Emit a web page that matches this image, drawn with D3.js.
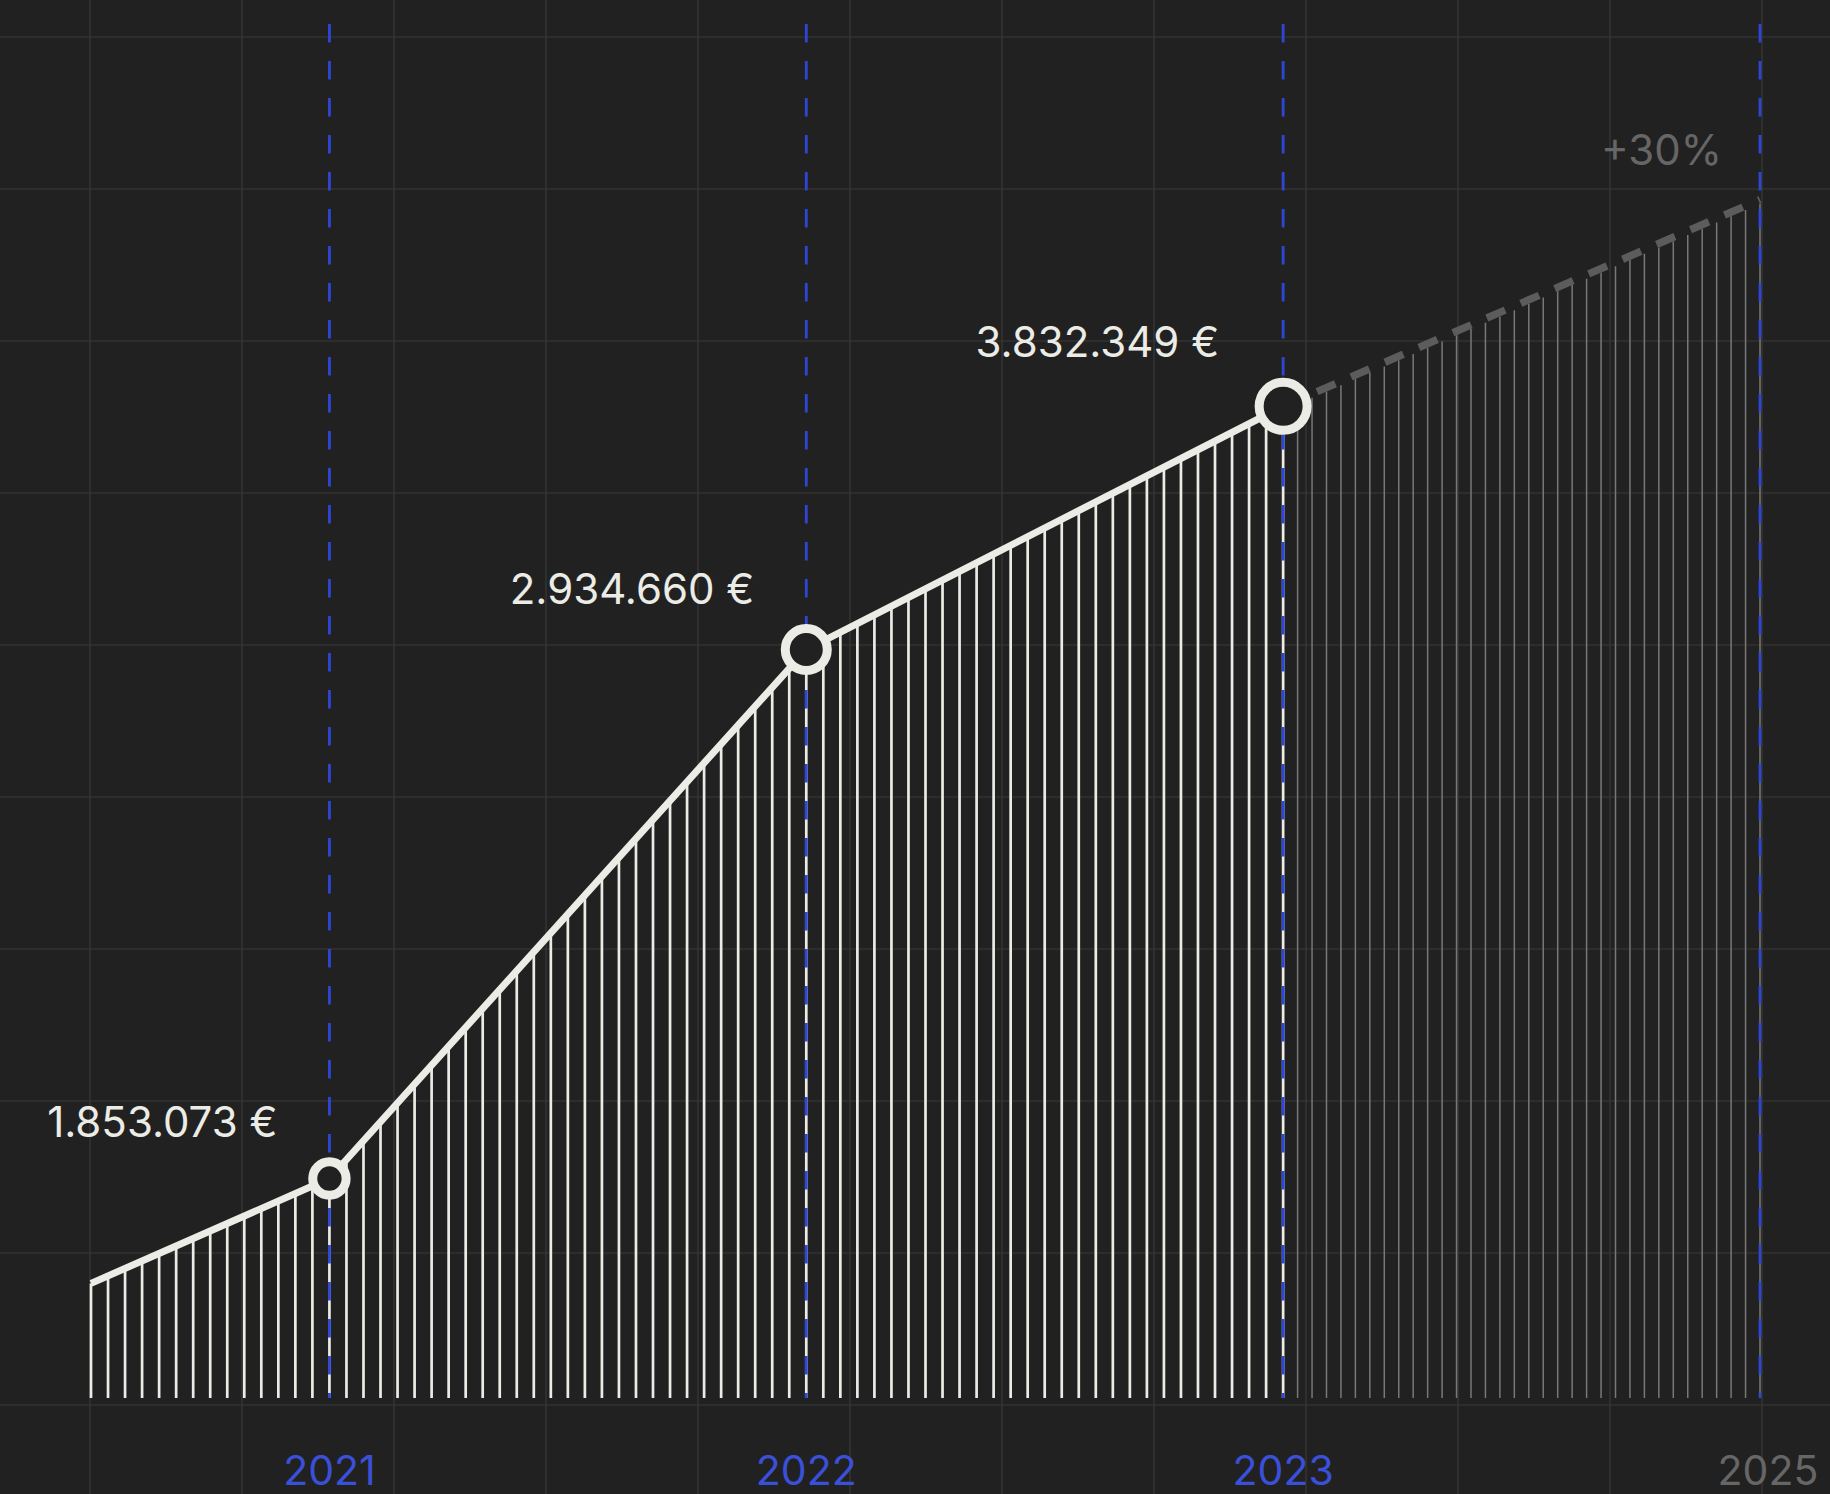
<!DOCTYPE html>
<html>
<head>
<meta charset="utf-8">
<script src="https://cdn.jsdelivr.net/npm/d3@7"></script>
<style>
  html, body { margin: 0; padding: 0; background: #212121; }
  svg { display: block; }
  text { font-family: Inter, "Noto Sans", sans-serif; font-weight: 400; }
</style>
</head>
<body>
<svg id="chart" width="1830" height="1494"></svg>
<script>
// ---------------- data ----------------
const years = ["2021", "2022", "2023", "2025"];
const revenue = [1853073, 2934660, 3832349];      // labelled values 2021–2023
const growth = 0.30;                               // projection label for 2025
// plotted height of the line (in grid squares above the base line)
const startLevel = 0.80;
const yearLevels = [1.49, 4.97, 6.57, 7.93];

// ---------------- layout ----------------
const W = 1830, H = 1494;
const svg = d3.select("#chart");
const C = {
  bg: "#212121", grid: "#3a3a3a", ink: "#ecece6", blue: "#2e46d6",
  blueText: "#3a50d8", fade: "#787878", proj: "#5c5c5c", muted: "#666666"
};

const x = d3.scaleLinear().domain([-0.5, years.length - 1]).range([91, 1760]);
const y = d3.scaleLinear().domain([0, 9]).range([1405, 37]);
const r = d3.scaleSqrt().domain([0, d3.max(revenue)]).range([0, 24]);
const gx = d3.scaleLinear().domain([0, 11]).range([90, 1762]);

const fmt = d3.formatLocale({ decimal: ",", thousands: ".", grouping: [3], currency: ["", " €"] }).format("$,.0f");
const pct = d3.format("+.0%");

const base = y(0) - 7;

svg.append("rect").attr("width", W).attr("height", H).attr("fill", C.bg);

// grid
const grid = svg.append("g").attr("stroke", C.grid).attr("stroke-width", 1.2);
grid.selectAll("line.h").data(y.ticks(9)).join("line").attr("class", "h")
  .attr("x1", 0).attr("x2", W).attr("y1", d => y(d)).attr("y2", d => y(d));
grid.selectAll("line.v").data(gx.ticks(11)).join("line").attr("class", "v")
  .attr("y1", 0).attr("y2", H).attr("x1", d => gx(d)).attr("x2", d => gx(d));

// line points
const solidPts = [{ slot: -0.5, level: startLevel }]
  .concat(years.slice(0, 3).map((yr, i) => ({ slot: i, level: yearLevels[i] })));
const projPts = [2, 3].map(i => ({ slot: i, level: yearLevels[i] }));

// hatch bars under the line
const bars = [];
function hatch(pts, spacing, faded, skipFirst) {
  for (let s = 0; s < pts.length - 1; s++) {
    const x0 = x(pts[s].slot), x1 = x(pts[s + 1].slot);
    const y0 = y(pts[s].level), y1 = y(pts[s + 1].level);
    const n = Math.round((x1 - x0) / spacing);
    const kStart = (s === 0 && !skipFirst) ? 0 : 1;
    for (let k = kStart; k <= n; k++) {
      const t = k / n;
      bars.push({ x: x0 + (x1 - x0) * t, top: y0 + (y1 - y0) * t, faded });
    }
  }
}
hatch(solidPts, 16.8, false, false);
hatch(projPts, 14.4, true, true);

svg.append("g").selectAll("line").data(bars).join("line")
  .attr("x1", d => d.x).attr("x2", d => d.x)
  .attr("y1", base).attr("y2", d => d.top + (d.faded ? 4 : 0))
  .attr("stroke", d => d.faded ? C.fade : C.ink)
  .attr("stroke-width", d => d.faded ? 1.5 : 2.7);

// blue dashed year lines
svg.append("g").selectAll("line").data(years).join("line")
  .attr("x1", (d, i) => x(i)).attr("x2", (d, i) => x(i))
  .attr("y1", 24).attr("y2", base)
  .attr("stroke", C.blue).attr("stroke-width", 2.8)
  .attr("stroke-dasharray", "18.5 18.5");

const line = d3.line().x(d => x(d.slot)).y(d => y(d.level));

// projection dashed line
svg.append("path").datum(projPts).attr("d", line)
  .attr("fill", "none").attr("stroke", C.proj).attr("stroke-width", 7.5)
  .attr("stroke-dasharray", "20 17");

// main line
svg.append("path").datum(solidPts).attr("d", line)
  .attr("fill", "none").attr("stroke", C.ink).attr("stroke-width", 7)
  .attr("stroke-linejoin", "round");

// markers
svg.append("g").selectAll("circle").data(revenue).join("circle")
  .attr("cx", (d, i) => x(i)).attr("cy", (d, i) => y(yearLevels[i]))
  .attr("r", d => r(d))
  .attr("fill", C.bg).attr("stroke", C.ink).attr("stroke-width", 9);

// value labels
svg.append("g").selectAll("text").data(revenue).join("text")
  .attr("x", (d, i) => x(i) - 52 - (i === 2 ? 12 : 0))
  .attr("y", (d, i) => y(yearLevels[i]) - r(d) - 25)
  .attr("text-anchor", "end").attr("font-size", 42).attr("fill", C.ink)
  .text(d => fmt(d));

// projection label
svg.append("text")
  .attr("x", x(3) - 38).attr("y", y(yearLevels[3]) - 35)
  .attr("text-anchor", "end").attr("font-size", 42).attr("fill", C.muted)
  .text(pct(growth));

// year labels
svg.append("g").selectAll("text").data(years).join("text")
  .attr("x", (d, i) => x(i) + (i === 3 ? 8 : 0)).attr("y", 1485)
  .attr("text-anchor", "middle").attr("font-size", 41)
  .attr("fill", (d, i) => i === 3 ? C.muted : C.blueText)
  .text(d => d);
</script>
</body>
</html>
